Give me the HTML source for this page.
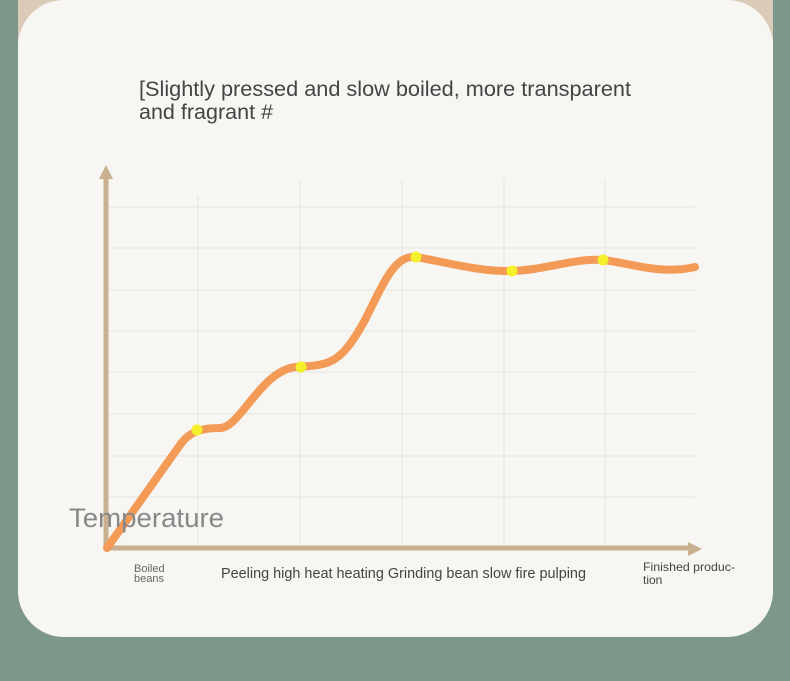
<!DOCTYPE html>
<html><head><style>
body{margin:0;width:790px;height:681px;background:#7d988b;overflow:hidden;font-family:"Liberation Sans",sans-serif;}
.bg{position:absolute;left:18px;top:0;width:755px;height:60px;background:#d9cbb7;}
.card{position:absolute;left:18px;top:0;width:755px;height:637px;background:#f7f6f3;border-radius:46px;}
</style></head><body>
<div class="bg"></div>
<div class="card"></div>
<svg width="790" height="681" style="position:absolute;left:0;top:0">
<g stroke="#e6e4e0" stroke-width="1">
<line x1="198" y1="195" x2="198" y2="548"/><line x1="300" y1="180" x2="300" y2="548"/>
<line x1="402" y1="180" x2="402" y2="548"/><line x1="504" y1="180" x2="504" y2="548"/>
<line x1="605" y1="180" x2="605" y2="548"/>
<line x1="108" y1="207" x2="695" y2="207"/><line x1="108" y1="248" x2="695" y2="248"/>
<line x1="108" y1="290" x2="695" y2="290"/><line x1="108" y1="331" x2="695" y2="331"/>
<line x1="108" y1="372" x2="695" y2="372"/><line x1="108" y1="414" x2="695" y2="414"/>
<line x1="108" y1="456" x2="695" y2="456"/><line x1="108" y1="497" x2="695" y2="497"/>
</g>
<g stroke="#c9b08e" stroke-width="5" fill="#c9b08e">
<line x1="106" y1="178" x2="106" y2="550"/><line x1="104" y1="548" x2="690" y2="548"/>
</g>
<polygon points="106,165 99,179 113,179" fill="#c9b08e"/>
<polygon points="702,549 688,542 688,556" fill="#c9b08e"/>
<path d="M107,548 L180,445 C190,430 205,428 220,428 C240,428 260,372 295,367 C330,365 340,365 365,320 C385,280 395,255 416,257 C445,262 480,272 512,271 C545,270 575,258 603,260 C630,263 660,275 695,267" fill="none" stroke="#f39a57" stroke-width="8" stroke-linecap="round"/>
<g fill="#f6f02a"><circle cx="197" cy="430" r="5.5"/><circle cx="301" cy="367" r="5.5"/><circle cx="416" cy="257" r="5.5"/><circle cx="512" cy="271" r="5.5"/><circle cx="603" cy="260" r="5.5"/></g>
<text x="139" y="96" font-size="21" fill="#444" textLength="492" lengthAdjust="spacingAndGlyphs">[Slightly pressed and slow boiled, more transparent</text>
<text x="139" y="119" font-size="21" fill="#444" textLength="134" lengthAdjust="spacingAndGlyphs">and fragrant #</text>
<text x="69" y="527" font-size="27" fill="#888" textLength="155" lengthAdjust="spacingAndGlyphs">Temperature</text>
<text x="134" y="572" font-size="11" fill="#666">Boiled</text>
<text x="134" y="582" font-size="11" fill="#666">beans</text>
<text x="221" y="578" font-size="14.4" fill="#444" textLength="365" lengthAdjust="spacingAndGlyphs">Peeling high heat heating Grinding bean slow fire pulping</text>
<text x="643" y="571" font-size="12" fill="#444" textLength="92" lengthAdjust="spacingAndGlyphs">Finished produc-</text>
<text x="643" y="584" font-size="12" fill="#444">tion</text>
</svg>
</body></html>
